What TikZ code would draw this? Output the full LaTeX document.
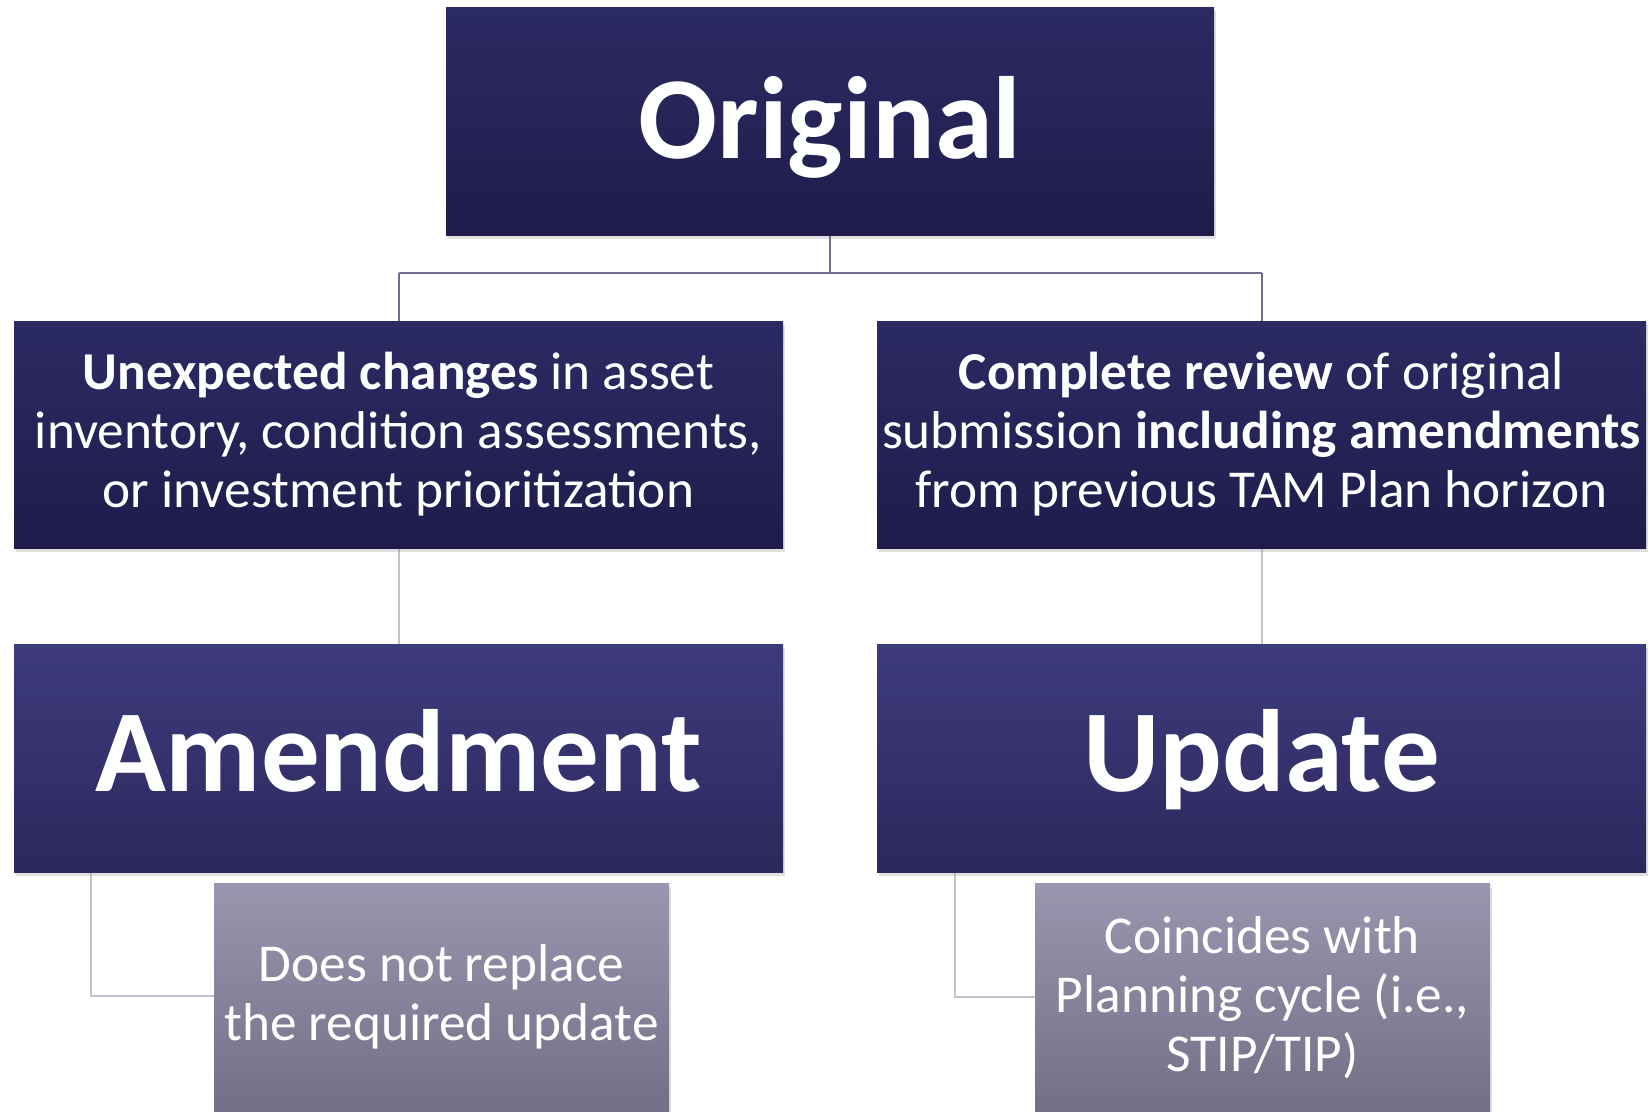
\documentclass[tikz,border=0pt]{standalone}
\usepackage{fontspec}
\setmainfont{Carlito}
\usetikzlibrary{shadows}
\definecolor{navyTop}{HTML}{2C2A63}
\definecolor{navyBot}{HTML}{1F1C4B}
\definecolor{midTop}{HTML}{3E3B7C}
\definecolor{midBot}{HTML}{2B285E}
\definecolor{greyTop}{HTML}{9996AF}
\definecolor{greyBot}{HTML}{727086}
\definecolor{linkDark}{HTML}{6F6D92}
\definecolor{linkLight}{HTML}{C3C2CE}
\begin{document}
\begin{tikzpicture}[x=1pt,y=-1pt,
  boxbase/.style={rectangle, inner sep=0pt, text=white, align=center,
    drop shadow={opacity=0.25, shadow xshift=2pt, shadow yshift=-4pt}},
  topbox/.style={boxbase, top color=navyTop, bottom color=navyBot,
    minimum width=768pt, minimum height=228pt},
  descbox/.style={boxbase, top color=navyTop, bottom color=navyBot,
    minimum width=769pt, minimum height=227pt,
    font=\fontsize{53.3}{59}\selectfont},
  kindbox/.style={boxbase, top color=midTop, bottom color=midBot,
    minimum width=769pt, minimum height=228pt},
  notebox/.style={boxbase, top color=greyTop, bottom color=greyBot,
    minimum width=455pt, minimum height=228pt,
    font=\fontsize{53.3}{59}\selectfont},
  bigword/.style={font=\fontsize{117}{124}\selectfont\bfseries,
    text=white, anchor=base, inner sep=0pt},
  link/.style={draw=linkDark, line width=2pt},
  sublink/.style={draw=linkLight, line width=2pt}]
\useasboundingbox (0,0) rectangle (1649,1111);

% tree connectors
\coordinate (split) at (830,273);
\coordinate (splitL) at (398.5,273);
\coordinate (splitR) at (1261.5,273);
\coordinate (elbowL) at (91,996);
\coordinate (elbowR) at (955,997);

\draw[link] (830,235) -- (split);
\draw[link] (splitL) -- (splitR);
\draw[link] (splitL) -- (398.5,321);
\draw[link] (splitR) -- (1261.5,321);
\draw[sublink] (398.5,548) -- (398.5,644);
\draw[sublink] (1261.5,548) -- (1261.5,644);
\draw[sublink] (91,872) -- (elbowL) -- (214,996);
\draw[sublink] (955,872) -- (elbowR) -- (1035,997);

% boxes
\node[topbox] (orig) at (830,121) {};
\node[bigword] (origT) at (830,158) {Original};

\node[descbox] (descL) at (398.5,434.5)
  {\textbf{Unexpected changes} in asset\\
   inventory, condition assessments,\\
   or investment prioritization};
\node[descbox] (descR) at (1261.5,434.5)
  {\textbf{Complete review} of original\\
   submission \textbf{including amendments}\\
   from previous TAM Plan horizon};

\node[kindbox] (amend) at (398.5,758) {};
\node[bigword] (amendT) at (398.5,791) {Amendment};
\node[kindbox] (upd) at (1261.5,758) {};
\node[bigword] (updT) at (1261.5,791) {Update};

\node[notebox] (noteL) at (441.5,997)
  {Does not replace\\ the required update};
\node[notebox] (noteR) at (1262.5,997.5)
  {Coincides with\\ Planning cycle (i.e.,\\ STIP/TIP)};
\end{tikzpicture}
\end{document}
